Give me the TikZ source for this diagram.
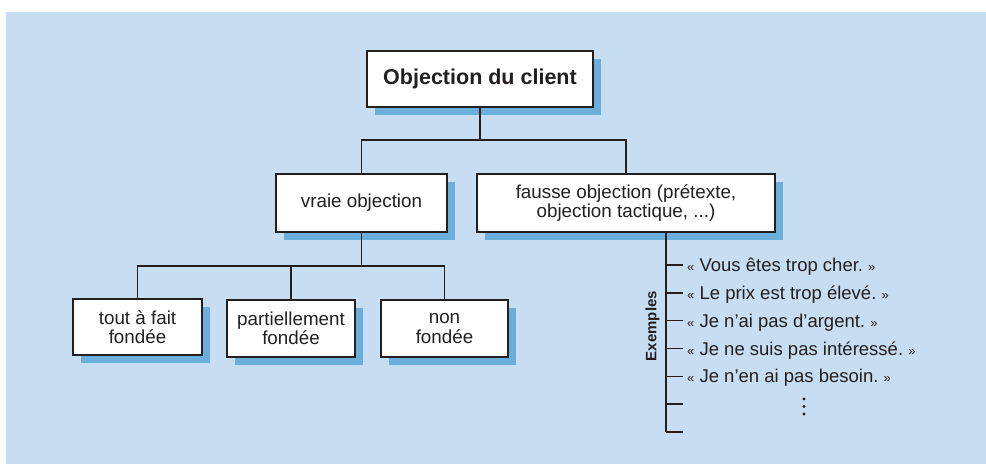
\documentclass[tikz,border=0pt]{standalone}
\usepackage{fontspec}
\setmainfont{Liberation Sans}
\usetikzlibrary{shadows}
\definecolor{bgblue}{RGB}{199,221,242}
\definecolor{shadeblue}{RGB}{106,174,219}
\definecolor{ink}{RGB}{35,31,32}
\newcommand{\guilo}{{\fontsize{13}{13}\selectfont «}}
\newcommand{\guilc}{{\fontsize{13}{13}\selectfont »}}

\begin{document}
\begin{tikzpicture}[x=1pt,y=-1pt,
	box/.style={draw=ink,line width=1.8pt,fill=white,align=center,inner sep=0pt,
		text=ink,font=\fontsize{18.8}{19.5}\selectfont,
		general shadow={fill=shadeblue,shadow xshift=8pt,shadow yshift=-7.5pt}},
	link/.style={draw=ink,line width=1.4pt},
	example/.style={anchor=base west,inner sep=0pt,text=ink,font=\fontsize{18.5}{19}\selectfont}]
	\useasboundingbox (0,0) rectangle (986,464);
	\fill [bgblue] (6,12) rectangle (986,464);

	\node [box,font=\bfseries\fontsize{21.5}{22}\selectfont,minimum width=226pt,minimum height=56pt] (client) at (480,79) {Objection du client};

	\node [box,minimum width=171pt,minimum height=58pt] (vraie) at (361.5,203) {vraie objection};
	\node [box,minimum width=298pt,minimum height=58pt] (fausse) at (626,203) {fausse objection (prétexte,\\objection tactique, ...)};

	\node [box,minimum width=129pt,minimum height=56pt] (tout) at (137.5,327) {tout à fait\\fondée};
	\node [box,minimum width=128pt,minimum height=57pt] (partiel) at (291,328.5) {partiellement\\fondée};
	\node [box,minimum width=127pt,minimum height=57pt] (non) at (444.5,328.5) {non\\fondée};

	\coordinate (fork1) at (480,140);
	\draw [link] (client.south) -- (fork1) -| (vraie.north);
	\draw [link] (fork1) -| (fausse.north);

	\coordinate (fork2) at (361.5,266);
	\draw [link] (vraie.south) -- (fork2) -| (tout.north);
	\draw [link] (fork2) -| (partiel.north);
	\draw [link] (fork2) -| (non.north);

	% exemples
	\coordinate (spinetop) at (666,233);
	\coordinate (spinebot) at (666,432);
	\draw [link] (spinetop) -- (spinebot);
	\foreach \i in {1,...,7} {
		\coordinate (tick\i) at (666,{265+(\i-1)*27.8});
		\draw [link] (tick\i) -- ++(17,0);
	}
	\foreach \txt [count=\i] in {{Vous êtes trop cher.},{Le prix est trop élevé.},
			{Je n’ai pas d’argent.},{Je ne suis pas intéressé.},{Je n’en ai pas besoin.}}
		\node [example] (ex\i) at (687,{271.7+(\i-1)*27.8}) {\guilo\ \txt\ \guilc};

	\node [rotate=90,text=ink,font=\bfseries\fontsize{15}{15}\selectfont] (exlabel) at (652.5,326) {Exemples};
	\foreach \y in {399,406.5,414}
		\fill [ink] (804,\y) circle (1.6);
\end{tikzpicture}
\end{document}
